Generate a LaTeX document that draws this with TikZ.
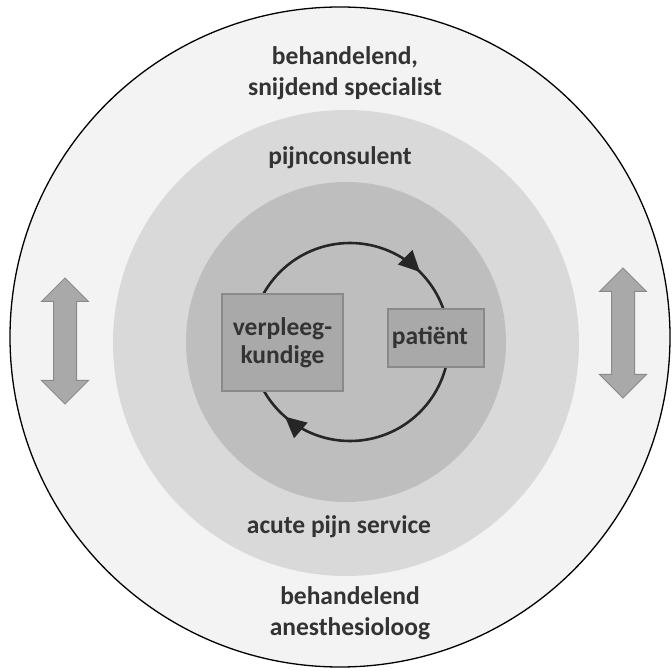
\documentclass[tikz,border=0pt]{standalone}
\usepackage{fontspec}
\setmainfont{Carlito}
\usetikzlibrary{shapes.arrows,arrows.meta,decorations.markings}
\definecolor{outerfill}{HTML}{F3F3F3}
\definecolor{midfill}{HTML}{D9D9D9}
\definecolor{innerfill}{HTML}{BEBEBE}
\definecolor{boxfill}{HTML}{A9A9A9}
\definecolor{boxline}{HTML}{8A8A8A}
\definecolor{txtgray}{HTML}{333333}
\tikzset{ring/.style={circle,inner sep=0pt,minimum size=#1}}
\tikzset{ringtext/.style={font=\bfseries\fontsize{25.5}{31}\selectfont,text=txtgray,align=center}}
\tikzset{carebox/.style={draw=boxline,fill=boxfill,line width=1.5pt,inner sep=0pt,
		font=\bfseries\fontsize{25.5}{28}\selectfont,text=txtgray,align=center}}
\tikzset{updown/.style={double arrow,rotate=90,draw=boxline,fill=boxfill,line width=1pt,
		inner xsep=0pt,inner ysep=11pt,double arrow head extend=12pt,
		double arrow head indent=0pt,minimum height=#1}}

\begin{document}
\begin{tikzpicture}[x=1pt,y=1pt]
	\useasboundingbox (0,0) rectangle (672,670);
	\node[ring=660pt,draw=black,line width=1.3pt,fill=outerfill] (outer) at (340,333) {};
	\node[ring=466pt,fill=midfill] (middle) at (346,327) {};
	\node[ring=320pt,fill=innerfill] (inner) at (346,328) {};
	
	% cycle between nurse and patient
	\coordinate (cyc) at (350,328);
	\draw[line width=2.6pt,black!85,
		decoration={markings,
			mark=at position 0.125 with {\arrowreversed{Triangle[length=21pt,width=20pt]}},
			mark=at position 0.636 with {\arrowreversed{Triangle[length=21pt,width=20pt]}}},
		postaction={decorate}] (cyc) circle[radius=99];
	
	\node[carebox,minimum width=121pt,minimum height=97pt] (nurse) at (282.5,327.5) {verpleeg-\\kundige};
	\node[carebox,minimum width=96pt,minimum height=58pt] (patient) at (436,332) {\hspace*{-12pt}patiënt};
	
	\node[ringtext] (surgeon) at (345,597) {behandelend,\\snijdend specialist};
	\node[ringtext] (consult) at (340,512) {pijnconsulent};
	\node[ringtext] (aps) at (339,143) {acute pijn service};
	\node[ringtext] (anesth) at (350,57) {behandelend\\anesthesioloog};
	
	\node[updown=126pt] (leftarrow) at (65,329) {};
	\node[updown=130pt] (rightarrow) at (623,337) {};
\end{tikzpicture}
\end{document}
